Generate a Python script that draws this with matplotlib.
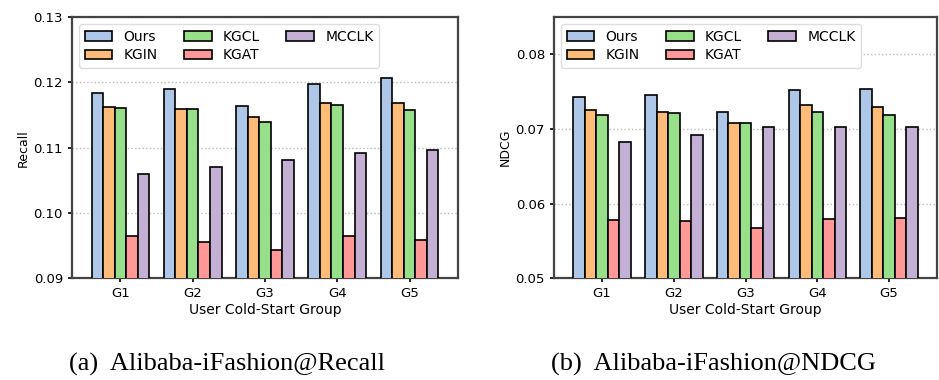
import matplotlib
matplotlib.use('Agg')
import matplotlib.pyplot as plt
import numpy as np

groups = ['G1', 'G2', 'G3', 'G4', 'G5']
methods = ['Ours', 'KGIN', 'KGCL', 'KGAT', 'MCCLK']
colors = ['#aec7e8', '#ffbb78', '#98df8a', '#ff9896', '#c5b0d5']

recall_ours = [0.1183, 0.1190, 0.1164, 0.1198, 0.1207]
recall_kgin = [0.1162, 0.1159, 0.1147, 0.1168, 0.1168]
recall_kgcl = [0.1160, 0.1159, 0.1140, 0.1166, 0.1157]
recall_kgat = [0.0965, 0.0956, 0.0943, 0.0964, 0.0958]
recall_mcclk = [0.1059, 0.1071, 0.1081, 0.1092, 0.1096]

ndcg_ours = [0.0743, 0.0745, 0.0723, 0.0752, 0.0754]
ndcg_kgin = [0.0726, 0.0723, 0.0708, 0.0732, 0.0729]
ndcg_kgcl = [0.0719, 0.0722, 0.0708, 0.0723, 0.0719]
ndcg_kgat = [0.0578, 0.0576, 0.0567, 0.0579, 0.0581]
ndcg_mcclk = [0.0683, 0.0692, 0.0703, 0.0703, 0.0703]

recall = [recall_ours, recall_kgin, recall_kgcl, recall_kgat, recall_mcclk]
ndcg = [ndcg_ours, ndcg_kgin, ndcg_kgcl, ndcg_kgat, ndcg_mcclk]

fig = plt.figure(figsize=(9.39, 3.8), dpi=100)
ax1 = fig.add_axes([0.0767, 0.268, 0.411, 0.687])
ax2 = fig.add_axes([0.590, 0.268, 0.408, 0.687])

x = np.arange(len(groups))
w = 0.16


def draw(ax, data, ylim, yticks, ylabel):
    for i, (m, vals) in enumerate(zip(methods, data)):
        ax.bar(x + (i - 2) * w, vals, w, color=colors[i], edgecolor='black',
               linewidth=1.2, label=m, zorder=3)
    ax.set_ylim(*ylim)
    ax.set_xlim(-0.67, 4.67)
    ax.set_yticks(yticks)
    ax.set_yticklabels(['%.2f' % t for t in yticks], fontsize=9.5)
    ax.set_xticks(x)
    ax.set_xticklabels(groups, fontsize=9.5)
    ax.set_xlabel('User Cold-Start Group', fontsize=10, labelpad=2)
    ax.set_ylabel(ylabel, fontsize=9, labelpad=3)
    ax.yaxis.grid(True, linestyle=':', color='#bbbbbb', linewidth=1, zorder=0)
    for s in ax.spines.values():
        s.set_color('#444444')
        s.set_linewidth(1.6)
    ax.tick_params(length=3, width=1.2, pad=3.5)
    ax.legend(loc='upper left', ncol=3, handlelength=2.0,
              columnspacing=1.9, prop={'size': 10},
              framealpha=1, edgecolor='#dddddd', borderpad=0.4,
              labelspacing=0.35)


draw(ax1, recall, (0.09, 0.13), [0.09, 0.10, 0.11, 0.12, 0.13], 'Recall')
draw(ax2, ndcg, (0.05, 0.085), [0.05, 0.06, 0.07, 0.08], 'NDCG')

fig.text(0.242, 0.024, '(a)  Alibaba-iFashion@Recall', ha='center',
         va='baseline', fontsize=19, family='Liberation Serif')
fig.text(0.760, 0.024, '(b)  Alibaba-iFashion@NDCG', ha='center',
         va='baseline', fontsize=19, family='Liberation Serif')

fig.savefig('out.png', dpi=100)
